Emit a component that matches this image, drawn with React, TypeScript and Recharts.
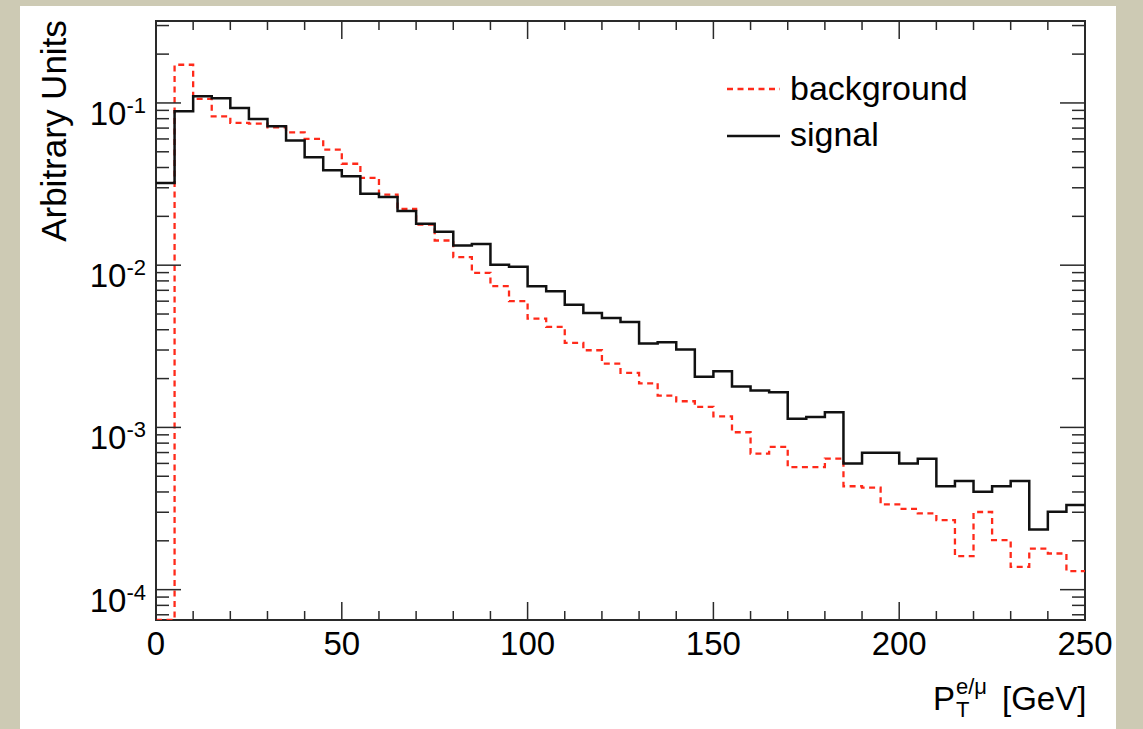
import { LineChart, Line, XAxis, YAxis, ReferenceArea, Legend } from "recharts";

// lower edges of the 5 GeV bins
const BIN_EDGES = [
  0, 5, 10, 15, 20, 25, 30, 35, 40, 45, 50, 55, 60, 65, 70, 75, 80, 85, 90, 95,
  100, 105, 110, 115, 120, 125, 130, 135, 140, 145, 150, 155, 160, 165, 170, 175, 180, 185, 190, 195,
  200, 205, 210, 215, 220, 225, 230, 235, 240, 245,
];

const SIGNAL = [
  0.0321, 0.0888, 0.11, 0.107, 0.093, 0.0796, 0.0718, 0.0587, 0.0463, 0.0385,
  0.0353, 0.0276, 0.0263, 0.0216, 0.018, 0.0161, 0.0132, 0.0135, 0.01005, 0.00977,
  0.00742, 0.00691, 0.00571, 0.00508, 0.00473, 0.00447, 0.00329, 0.00335, 0.00302, 0.00205,
  0.00222, 0.00179, 0.00169, 0.00165, 0.00113, 0.00116, 0.00124, 0.0006, 0.000697, 0.000697,
  0.0006, 0.00064, 0.000434, 0.000467, 0.000401, 0.000434, 0.000467, 0.000235, 0.000302, 0.000333,
];

const BACKGROUND = [
  0, 0.172, 0.106, 0.0827, 0.0753, 0.0745, 0.0707, 0.0659, 0.06, 0.0515,
  0.0422, 0.0345, 0.0272, 0.0222, 0.0178, 0.0142, 0.0112, 0.00897, 0.00742, 0.006,
  0.00469, 0.00417, 0.00332, 0.00299, 0.00247, 0.00217, 0.00187, 0.00157, 0.00145, 0.00134,
  0.00117, 0.000934, 0.00069, 0.000759, 0.000569, 0.000569, 0.000643, 0.000434, 0.000425, 0.000335,
  0.000315, 0.000295, 0.000268, 0.000161, 0.000301, 0.000202, 0.000138, 0.000179, 0.000167, 0.00013,
];

const X_MAX = 250;
const X_TICKS = [0, 10, 20, 30, 40, 50, 60, 70, 80, 90, 100, 110, 120, 130, 140, 150, 160, 170, 180, 190, 200, 210, 220, 230, 240, 250];
const Y_MIN = 6.5e-5;
const Y_MAX = 0.32;
const Y_DECADES = [1e-4, 1e-3, 1e-2, 1e-1];
const Y_TICKS: number[] = [7e-5, 8e-5, 9e-5];
Y_DECADES.forEach((d) => {
  for (let m = 1; m <= 9; m++) if (d * m <= Y_MAX) Y_TICKS.push(d * m);
});

const FONT = "'Liberation Sans', Arial, Helvetica, sans-serif";
const RED = "#ff2a1a";
const FRAME = "#2a2a2a";

const PLOT_LEFT = 156;
const PLOT_RIGHT = 1085;
const PLOT_TOP = 21;
const PLOT_BOTTOM = 620;

// empty bins are drawn on the axis floor, like ROOT does
const floor = (v: number) => (v > 0 ? v : Y_MIN);

const rows = BIN_EDGES.map((x, i) => ({ x, signal: SIGNAL[i], background: floor(BACKGROUND[i]) }));
rows.push({ x: X_MAX, signal: SIGNAL[SIGNAL.length - 1], background: floor(BACKGROUND[BACKGROUND.length - 1]) });

function XTick(props: any) {
  const { x, payload } = props;
  const v = payload.value;
  const major = v % 50 === 0;
  const len = major ? 18 : 9;
  return (
    <g>
      <line x1={x} x2={x} y1={PLOT_BOTTOM} y2={PLOT_BOTTOM - len} stroke={FRAME} strokeWidth={1.5} />
      <line x1={x} x2={x} y1={PLOT_TOP} y2={PLOT_TOP + len} stroke={FRAME} strokeWidth={1.5} />
      {major && (
        <text x={x} y={PLOT_BOTTOM + 35} textAnchor="middle" fontSize={33} fontFamily={FONT} fill="#000">
          {v}
        </text>
      )}
    </g>
  );
}

function YTick(props: any) {
  const { y, payload } = props;
  const lg = Math.log10(payload.value);
  const exp = Math.round(lg);
  const major = Math.abs(lg - exp) < 1e-6;
  const len = major ? 25 : 13;
  return (
    <g>
      <line x1={PLOT_LEFT} x2={PLOT_LEFT + len} y1={y} y2={y} stroke={FRAME} strokeWidth={1.5} />
      <line x1={PLOT_RIGHT} x2={PLOT_RIGHT - len} y1={y} y2={y} stroke={FRAME} strokeWidth={1.5} />
      {major && (
        <text x={146} y={y + 22} textAnchor="end" fontSize={33} fontFamily={FONT} fill="#000">
          10
          <tspan dy={-12} fontSize={22}>
            {String(exp)}
          </tspan>
        </text>
      )}
    </g>
  );
}

function LegendBox() {
  return (
    <svg width={300} height={110} style={{ fontFamily: FONT }}>
      <line x1={7} x2={60} y1={31} y2={31} stroke={RED} strokeWidth={2.3} strokeDasharray="6 4.5" />
      <text x={70} y={42} fontSize={34} fill="#000">background</text>
      <line x1={7} x2={60} y1={78} y2={78} stroke="#111" strokeWidth={2.5} />
      <text x={70} y={88} fontSize={34} fill="#000">signal</text>
    </svg>
  );
}

const yTitle = () => (
  <text transform="translate(66,131) rotate(-90)" textAnchor="middle" fontSize={35} fontFamily={FONT} fill="#000">
    Arbitrary Units
  </text>
);

const xTitle = () => (
  <text fontFamily={FONT} fill="#000">
    <tspan x={933} y={710} fontSize={33}>P</tspan>
    <tspan x={956} y={694} fontSize={22}>e/μ</tspan>
    <tspan x={956} y={717} fontSize={22}>T</tspan>
    <tspan x={1002} y={710} fontSize={33}>[GeV]</tspan>
  </text>
);

export default function App() {
  return (
    <div style={{ position: "absolute", left: 0, top: 0, width: 1143, height: 729, background: "#cdcab4" }}>
      <div style={{ position: "absolute", left: 20, top: 6, width: 1096, height: 723, background: "#fff" }} />
      <div style={{ position: "absolute", left: 0, top: 0 }}>
        <LineChart width={1143} height={729} data={rows} margin={{ top: 21, right: 58, left: 0, bottom: 0 }}>
          <XAxis
            dataKey="x"
            type="number"
            domain={[0, X_MAX]}
            ticks={X_TICKS}
            interval={0}
            allowDataOverflow
            height={109}
            tickSize={0}
            tickMargin={0}
            axisLine={false}
            tickLine={false}
            tick={(p: any) => <XTick {...p} />}
            label={{ content: xTitle }}
          />
          <YAxis
            type="number"
            scale="log"
            domain={[Y_MIN, Y_MAX]}
            ticks={Y_TICKS}
            interval={0}
            allowDataOverflow
            width={156}
            tickSize={0}
            tickMargin={0}
            axisLine={false}
            tickLine={false}
            tick={(p: any) => <YTick {...p} />}
            label={{ content: yTitle }}
          />
          <ReferenceArea x1={0} x2={X_MAX} y1={Y_MIN} y2={Y_MAX} fill="none" stroke={FRAME} strokeWidth={2} />
          <Line
            dataKey="background"
            type="stepAfter"
            stroke={RED}
            strokeWidth={2.3}
            strokeDasharray="6 4.5"
            dot={false}
            activeDot={false}
            isAnimationActive={false}
          />
          <Line
            dataKey="signal"
            type="stepAfter"
            stroke="#111"
            strokeWidth={2.5}
            dot={false}
            activeDot={false}
            isAnimationActive={false}
          />
          <Legend
            layout="horizontal"
            verticalAlign="middle"
            align="center"
            wrapperStyle={{ left: 720, top: 58, width: 300, height: 110 }}
            content={() => <LegendBox />}
          />
        </LineChart>
      </div>
    </div>
  );
}
